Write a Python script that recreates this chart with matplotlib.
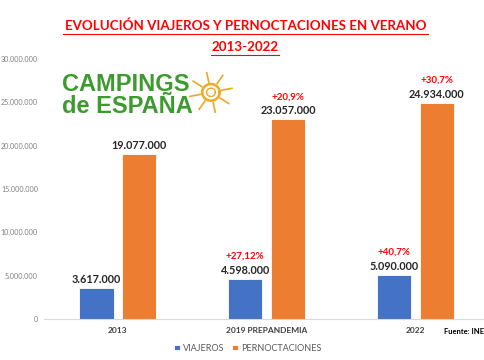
import numpy as np
import matplotlib
matplotlib.use('Agg')
import matplotlib.pyplot as plt

years = ['2013', '2019 PREPANDEMIA', '2022']
viajeros = [3617000, 4598000, 5090000]
pernoctaciones = [19077000, 23057000, 24934000]
viajeros_pct = ['', '+27,12%', '+40,7%']
pernoct_pct = ['', '+20,9%', '+30,7%']

blue = '#4472C4'
orange = '#ED7D31'

plt.rcParams['font.family'] = ['Lato', 'DejaVu Sans']


def fmt(v):
    return f'{v:,}'.replace(',', '.')


fig = plt.figure(figsize=(4.85, 3.6), dpi=100)
ax = fig.add_axes([0.0897, 0.114, 0.92, 0.722])

x = np.arange(len(years))
w = 0.23
off = 0.144
b1 = ax.bar(x - off, viajeros, w, color=blue, edgecolor='white', linewidth=0.6, label='VIAJEROS')
b2 = ax.bar(x + off, pernoctaciones, w, color=orange, edgecolor='white', linewidth=0.6, label='PERNOCTACIONES')

ax.set_xlim(-0.5, 2.5)
ax.set_ylim(0, 30000000)
ax.set_yticks(range(0, 30000001, 5000000))
ax.set_yticklabels([fmt(v) for v in range(0, 30000001, 5000000)], fontsize=5.1, color='#7f7f7f')
ax.set_xticks(x)
ax.set_xticklabels(years, fontsize=6, color='#404040', fontweight='bold')
ax.tick_params(axis='both', length=0)
ax.tick_params(axis='y', pad=4)
ax.tick_params(axis='x', pad=6)
for s in ['top', 'right', 'left']:
    ax.spines[s].set_visible(False)
ax.spines['bottom'].set_color('#d9d9d9')

for i in range(len(years)):
    ax.annotate(fmt(viajeros[i]), (x[i] - off, viajeros[i]), xytext=(0, 2), textcoords='offset points',
                ha='center', va='bottom', fontsize=7.8, fontweight='bold', color='#262626')
    ax.annotate(fmt(pernoctaciones[i]), (x[i] + off, pernoctaciones[i]), xytext=(0, 2), textcoords='offset points',
                ha='center', va='bottom', fontsize=7.8, fontweight='bold', color='#262626')
    if viajeros_pct[i]:
        ax.annotate(viajeros_pct[i], (x[i] - off, viajeros[i]), xytext=(0, 13), textcoords='offset points',
                    ha='center', va='bottom', fontsize=7, fontweight='bold', color='#ff0000')
    if pernoct_pct[i]:
        ax.annotate(pernoct_pct[i], (x[i] + off, pernoctaciones[i]), xytext=(0, 13), textcoords='offset points',
                    ha='center', va='bottom', fontsize=7, fontweight='bold', color='#ff0000')

# title
fig.text(0.506, 0.928, 'EVOLUCIÓN VIAJEROS Y PERNOCTACIONES EN VERANO', ha='center', va='center',
         fontsize=9.6, fontweight='bold', color='#ff0000')
fig.text(0.506, 0.87, '2013-2022', ha='center', va='center',
         fontsize=9.6, fontweight='bold', color='#ff0000')
fig.lines.append(plt.Line2D([0.13, 0.882], [0.906, 0.906], transform=fig.transFigure, color='#ff0000', lw=0.8))
fig.lines.append(plt.Line2D([0.436, 0.576], [0.848, 0.848], transform=fig.transFigure, color='#ff0000', lw=0.8))

# logo
fig.text(0.128, 0.765, 'CAMPINGS', fontsize=17, fontweight='bold', color='#3c9a2e',
         family='Liberation Sans', va='center')
fig.text(0.128, 0.704, 'de ESPAÑA', fontsize=17, fontweight='bold', color='#3c9a2e',
         family='Liberation Sans', va='center')
sun = fig.add_axes([0.39, 0.686, 0.09, 0.115])
sun.set_xlim(-1, 1)
sun.set_ylim(-1, 1)
sun.axis('off')
t = np.linspace(0, 2 * np.pi, 100)
sun.plot(0.4 * np.cos(t), 0.4 * np.sin(t), color='#f0a820', lw=1.8)
sun.plot(0.2 * np.cos(t), 0.2 * np.sin(t), color='#f0a820', lw=1.0)
for a in np.linspace(0.2, 2 * np.pi + 0.2, 9)[:-1]:
    sun.plot([0.5 * np.cos(a), 0.98 * np.cos(a)], [0.5 * np.sin(a), 0.98 * np.sin(a)], color='#f0a820', lw=1.2)

fig.text(0.998, 0.08, 'Fuente: INE', ha='right', va='center', fontsize=5.5, fontweight='bold', color='#000000')

fig.legend(handles=[b1, b2], loc='center', bbox_to_anchor=(0.511, 0.033), ncol=2, frameon=False,
           fontsize=6.5, handlelength=0.6, handleheight=0.6, columnspacing=0.9, handletextpad=0.35,
           labelcolor='#595959')

fig.savefig('out.png', dpi=100)
